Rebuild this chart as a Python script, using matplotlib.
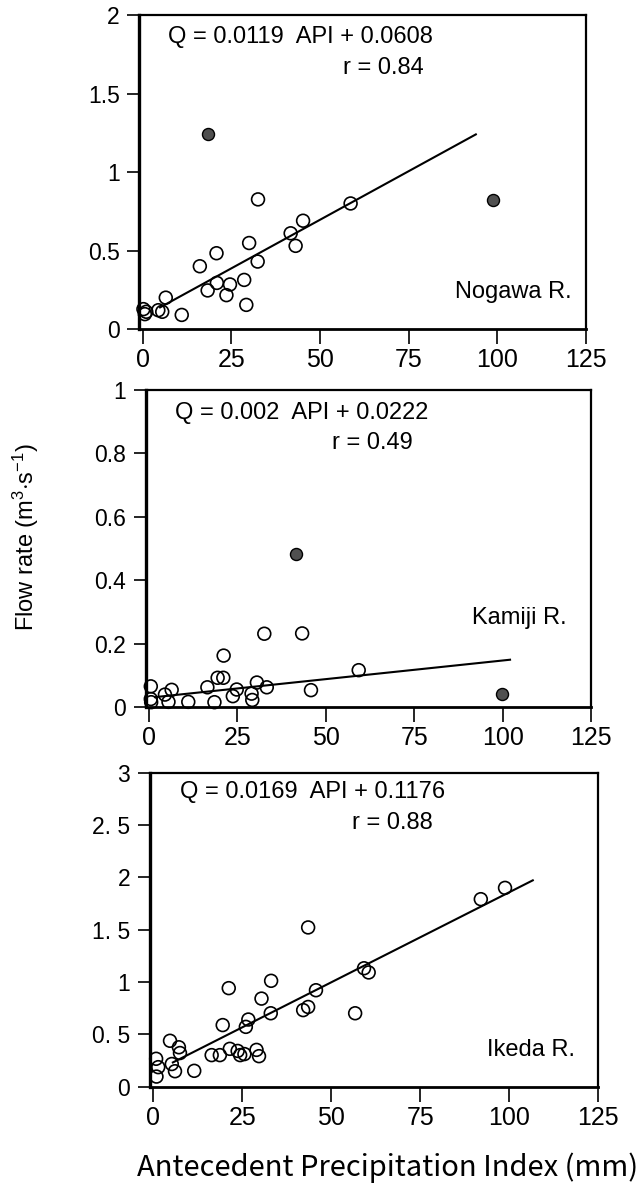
import matplotlib
matplotlib.use('Agg')
import matplotlib.pyplot as plt
from matplotlib import font_manager

plt.rcParams['font.family'] = ['Liberation Sans', 'DejaVu Sans']
plt.rcParams['mathtext.fontset'] = 'custom'
plt.rcParams['mathtext.rm'] = 'Liberation Sans'
plt.rcParams['mathtext.it'] = 'Liberation Sans'

# pick narrow face for x tick labels if there is one
names = set(f.name for f in font_manager.fontManager.ttflist)
NARROW = 'Liberation Sans Narrow' if 'Liberation Sans Narrow' in names else 'Liberation Sans'

# --- data ---
x_ticks = [0, 25, 50, 75, 100, 125]

# Nogawa R.
nog_open_x = [0.2, 0.6, 1.0, 4.4, 5.5, 6.5, 11.0, 16.1, 18.3, 20.8, 20.9, 23.6,
              24.6, 28.6, 29.2, 30.0, 32.4, 32.5, 41.7, 43.1, 45.2, 58.6]
nog_open_y = [0.127, 0.095, 0.11, 0.12, 0.11, 0.20, 0.09, 0.40, 0.246, 0.483, 0.294, 0.216,
              0.284, 0.313, 0.154, 0.548, 0.43, 0.826, 0.61, 0.53, 0.69, 0.80]
nog_fill_x = [18.5, 98.8]
nog_fill_y = [1.243, 0.824]
nog_line_x = [4.9, 93.9]
nog_line_y = [0.138, 1.24]
nog_yticks = [0, 0.5, 1, 1.5, 2]
nog_ylabels = ['0', '0.5', '1', '1.5', '2']

# Kamiji R.
kam_open_x = [0.5, 0.5, 0.6, 4.5, 5.5, 6.4, 11.1, 16.5, 18.5, 19.4, 21.0, 21.1,
              23.7, 24.8, 29.0, 29.2, 30.5, 32.6, 33.3, 43.3, 45.8, 59.3]
kam_open_y = [0.065, 0.025, 0.015, 0.039, 0.016, 0.054, 0.016, 0.062, 0.015, 0.092, 0.092, 0.162,
              0.034, 0.055, 0.042, 0.022, 0.077, 0.231, 0.062, 0.232, 0.053, 0.116]
kam_fill_x = [41.7, 99.7]
kam_fill_y = [0.484, 0.04]
kam_line_x = [1.7, 102.1]
kam_line_y = [0.031, 0.149]
kam_yticks = [0, 0.2, 0.4, 0.6, 0.8, 1]
kam_ylabels = ['0', '0.2', '0.4', '0.6', '0.8', '1']

# Ikeda R.
ike_open_x = [0.8, 0.9, 1.4, 4.7, 5.2, 6.1, 7.2, 7.5, 11.5, 16.4, 18.7, 19.5, 21.2,
              21.5, 23.7, 24.4, 25.6, 26.0, 26.7, 29.0, 29.7, 30.4, 33.0, 33.1,
              42.1, 43.5, 43.5, 45.7, 56.7, 59.2, 60.5, 92.0, 98.8]
ike_open_y = [0.265, 0.095, 0.185, 0.437, 0.215, 0.146, 0.375, 0.32, 0.15, 0.30, 0.30, 0.587, 0.94,
              0.36, 0.34, 0.30, 0.31, 0.57, 0.64, 0.35, 0.29, 0.84, 0.70, 1.01,
              0.73, 0.76, 1.52, 0.92, 0.70, 1.13, 1.09, 1.79, 1.898]
ike_line_x = [5.5, 106.6]
ike_line_y = [0.23, 1.97]
ike_yticks = [0, 0.5, 1, 1.5, 2, 2.5, 3]
ike_ylabels = ['0', '0. 5', '1', '1. 5', '2', '2. 5', '3']

panels = [
    dict(rect=[0.2178, 0.7251, 0.6995, 0.2623], ylim=(0, 2),
         ox=nog_open_x, oy=nog_open_y, fx=nog_fill_x, fy=nog_fill_y,
         lx=nog_line_x, ly=nog_line_y, yt=nog_yticks, yl=nog_ylabels,
         eq='Q = 0.0119  API + 0.0608', r='r = 0.84', name='Nogawa R.',
         eqpos=(0.065, 0.93), rpos=(0.456, 0.83), npos=(0.968, 0.118)),
    dict(rect=[0.2277, 0.4094, 0.6972, 0.2648], ylim=(0, 1),
         ox=kam_open_x, oy=kam_open_y, fx=kam_fill_x, fy=kam_fill_y,
         lx=kam_line_x, ly=kam_line_y, yt=kam_yticks, yl=kam_ylabels,
         eq='Q = 0.002  API + 0.0222', r='r = 0.49', name='Kamiji R.',
         eqpos=(0.066, 0.926), rpos=(0.418, 0.832), npos=(0.945, 0.28)),
    dict(rect=[0.2343, 0.0923, 0.7020, 0.2623], ylim=(0, 3),
         ox=ike_open_x, oy=ike_open_y, fx=[], fy=[],
         lx=ike_line_x, ly=ike_line_y, yt=ike_yticks, yl=ike_ylabels,
         eq='Q = 0.0169  API + 0.1176', r='r = 0.88', name='Ikeda R.',
         eqpos=(0.068, 0.937), rpos=(0.45, 0.84), npos=(0.948, 0.117)),
]

fig = plt.figure(figsize=(6.39, 11.97), dpi=100)

for p in panels:
    ax = fig.add_axes(p['rect'])
    ax.plot(p['lx'], p['ly'], color='black', lw=1.5, zorder=2)
    ax.scatter(p['ox'], p['oy'], s=85, facecolors='none', edgecolors='black',
               linewidths=1.2, zorder=3, clip_on=False)
    if p['fx']:
        ax.scatter(p['fx'], p['fy'], s=75, facecolors='#505050', edgecolors='black',
                   linewidths=1.0, zorder=3)
    ax.set_xlim(-1, 125)
    ax.set_ylim(*p['ylim'])
    ax.set_xticks(x_ticks)
    ax.set_xticklabels([str(t) for t in x_ticks], fontsize=18, family=NARROW)
    ax.set_yticks(p['yt'])
    ax.set_yticklabels(p['yl'], fontsize=16.5)
    ax.tick_params(axis='x', direction='out', length=11, width=1.2, pad=3)
    ax.tick_params(axis='y', direction='out', length=9, width=1.2, pad=5)
    for side in ['top', 'right']:
        ax.spines[side].set_linewidth(1.6)
    ax.spines['left'].set_linewidth(2.4)
    ax.spines['bottom'].set_linewidth(2.0)
    ax.text(*p['eqpos'], p['eq'], transform=ax.transAxes, fontsize=17,
            ha='left', va='center')
    ax.text(*p['rpos'], p['r'], transform=ax.transAxes, fontsize=17,
            ha='left', va='center')
    ax.text(*p['npos'], p['name'], transform=ax.transAxes, fontsize=17,
            ha='right', va='center')

fig.text(0.040, 0.551, r'Flow rate (m$^{3}$$\cdot$s$^{-1}$)', rotation=90,
         fontsize=17, ha='center', va='center')
fig.text(0.607, 0.012, 'Antecedent Precipitation Index (mm)', fontsize=21,
         family=['Noto Sans CJK JP', 'DejaVu Sans'], ha='center', va='bottom')

fig.savefig('out.png', dpi=100)
